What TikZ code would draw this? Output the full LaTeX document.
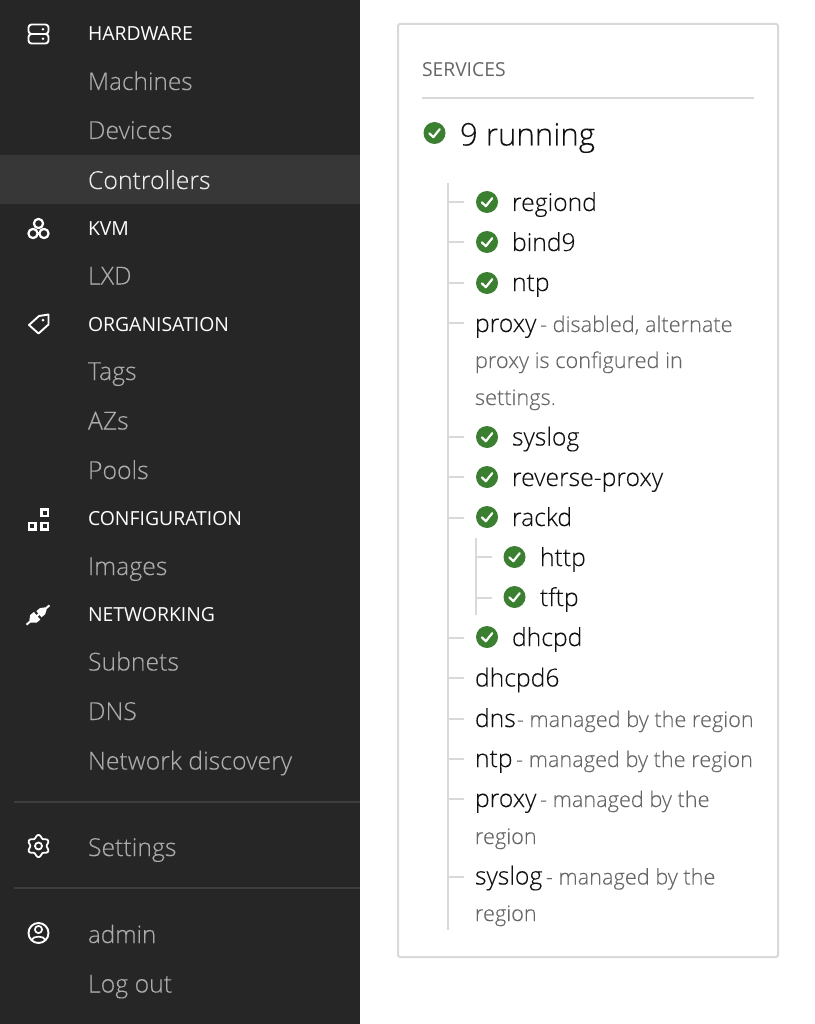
\documentclass[tikz,border=0pt]{standalone}
\usepackage{fontspec}
\setmainfont[FakeBold=0.12]{Open Sans Light}
\newfontfamily\medf{Open Sans}
\definecolor{side}{HTML}{262626}
\definecolor{band}{HTML}{373737}
\definecolor{sep}{HTML}{3D3D3D}
\definecolor{navg}{HTML}{ABABAB}
\definecolor{card}{HTML}{D9D9D9}
\definecolor{okg}{HTML}{3A8030}
\definecolor{ink}{HTML}{111111}
\definecolor{capt}{HTML}{666666}
\newcommand{\fs}[1]{\fontsize{#1}{#1}\selectfont}
\tikzset{
 x=1pt,y=-1pt,
 txt/.style={anchor=base west,inner sep=0pt,outer sep=0pt},
 navhead/.style={txt,text=white,font=\medf\fs{19.4}},
 navitem/.style={txt,text=navg,font=\fs{24.8}},
 svc/.style={txt,text=ink,font=\fs{24.7}},
 note/.style={txt,text=capt,font=\fs{21.7}},
 ico/.style={draw=white,line width=1.9pt,line join=round,line cap=round},
 tree/.style={draw=card,line width=1.2pt},
 trunk/.style={draw=card,line width=1.6pt},
}
\newcommand{\okicon}[3]{% name,x,y
 \node[circle,fill=okg,minimum size=22pt,inner sep=0pt] (#1) at (#2,#3) {};
 \draw[white,line width=2.2pt,line cap=round,line join=round] ([shift={(-5,0.5)}]#1.center) -- ([shift={(-1.2,4.2)}]#1.center) -- ([shift={(5.2,-3.8)}]#1.center);
}
\newcommand{\tick}[3]{\coordinate (#1a) at (#2,#3);\draw[tree] (#1a) -- ++(16,0);}
\begin{document}
\begin{tikzpicture}
\useasboundingbox (0,0) rectangle (814,1024);
\fill[white] (0,0) rectangle (814,1024);
\fill[side] (0,0) rectangle (360,1024);
\fill[band] (0,155) rectangle (360,204);
\draw[sep,line width=1.3pt] (14,802) -- (360,802);
\draw[sep,line width=1.3pt] (14,888) -- (360,888);
% navigation
\node[navhead] (hw) at (88,40.7) {HARDWARE};
\node[navitem,font=\fs{24.4}] (mach) at (88,90) {Machines};
\node[navitem] (dev) at (88,139) {Devices};
\node[navitem,text=white!92!black] (ctrl) at (88,189) {Controllers};
\node[navhead] (kvm) at (88,235.7) {KVM};
\node[navitem] (lxd) at (88,284.5) {LXD};
\node[navhead] (org) at (88,331) {ORGANISATION};
\node[navitem] (tags) at (88,380) {Tags};
\node[navitem] (azs) at (88,429.5) {AZs};
\node[navitem] (pools) at (88,479) {Pools};
\node[navhead] (conf) at (88,525.7) {CONFIGURATION};
\node[navitem] (img) at (88,575) {Images};
\node[navhead] (net) at (88,621.5) {NETWORKING};
\node[navitem] (subn) at (88,670.5) {Subnets};
\node[navitem] (dns) at (88,720) {DNS};
\node[navitem] (disc) at (88,769.5) {Network discovery};
\node[navitem] (sett) at (88,856) {Settings};
\node[navitem,font=\fs{24.2}] (adm) at (88,943) {admin};
\node[navitem] (logout) at (88,992.5) {Log out};
% server icon
\draw[ico,rounded corners=3pt] (28.5,24.5) rectangle (48.5,34);
\draw[ico,rounded corners=3pt] (28.5,34) rectangle (48.5,43.5);
\fill[white] (43,29.3) circle (1.4) (43,38.7) circle (1.4);
% cluster icon
\draw[ico,line width=2.2pt] (38.5,223.5) circle (4.6) (33,233.5) circle (4.6) (44,233.5) circle (4.6);
% tag icon
\draw[ico] (29,325) -- (39,316) -- (48.5,314.5) -- (48.5,324.5) -- (38.5,333.5) -- cycle;
\fill[white] (43,320) circle (1.5);
% configuration icon
\draw[white,line width=2.2pt] (41.5,509.5) rectangle (48,516) (29,523) rectangle (35.5,529.5) (41.5,523) rectangle (48,529.5);
% plug icon
\begin{scope}[shift={(38,615)},rotate=40]
\fill[white] (-15,-1) rectangle (15,1);
\fill[white] (-10,-1.5) -- (-6,-5) -- (-1.2,-5) -- (-1.2,5) -- (-6,5) -- (-10,1.5) -- cycle;
\fill[white] (10,-1.5) -- (6,-4) -- (1.2,-4) -- (1.2,4) -- (6,4) -- (10,1.5) -- cycle;
\end{scope}
% gear icon
\draw[ico,line width=1.8pt,smooth cycle] plot[domain=0:352,samples=45] ({38.5+(9.6+1.5*cos(6*\x))*cos(\x+30)},{846+(9.6+1.5*cos(6*\x))*sin(\x+30)});
\draw[ico,line width=1.8pt] (38.5,846) circle (3.5);
% user icon
\draw[ico] (38.5,933) circle (10);
\draw[ico,line width=1.7pt] (38.5,929.5) circle (3.6);
\draw[ico,line width=1.7pt] (31.5,940) .. controls (33,935.5) and (44,935.5) .. (45.5,940);
% card
\draw[card,line width=2pt,rounded corners=2pt] (398,24) rectangle (778,957);
\node[txt,text=capt,font=\medf\fs{19.3}] (head) at (422,76.7) {SERVICES};
\draw[card,line width=1.6pt] (422,98) -- (754,98);
\okicon{oktop}{434.5}{133}
\node[txt,text=ink,font=\fs{31.2}] (run) at (460,145.5) {9 running};
% tree
\coordinate (tt) at (448,183);\coordinate (tb) at (448,930);
\draw[trunk] (tt) -- (tb);
\coordinate (st) at (475.7,538);\coordinate (sb) at (475.7,615);
\draw[trunk] (st) -- (sb);
\tick{t1}{448}{202}\tick{t2}{448}{242}\tick{t3}{448}{283}\tick{t4}{448}{323}
\tick{t5}{448}{437}\tick{t6}{448}{477}\tick{t7}{448}{518}\tick{t8}{448}{638}
\tick{t9}{448}{678}\tick{t10}{448}{719}\tick{t11}{448}{759}\tick{t12}{448}{799}\tick{t13}{448}{877}
\tick{s1}{475.7}{557}\tick{s2}{475.7}{598}
\okicon{k1}{487}{202}\okicon{k2}{487}{242}\okicon{k3}{487}{283}
\okicon{k4}{487}{437}\okicon{k5}{487}{477}\okicon{k6}{487}{517}
\okicon{k7}{514.5}{557}\okicon{k8}{514.5}{597}\okicon{k9}{487}{637}
\node[svc] (a1) at (512,211) {regiond};
\node[svc] (a2) at (512,251) {bind9};
\node[svc] (a3) at (512,291) {ntp};
\node[svc] (a4) at (475,332) {proxy};
\node[note] (n4) at (a4.base east) [anchor=base west] {\,- disabled, alternate};
\node[note] (n4b) at (475,368) {proxy is configured in};
\node[note] (n4c) at (475,405) {settings.};
\node[svc] (a5) at (512,445.5) {syslog};
\node[svc] (a6) at (512,486) {reverse-proxy};
\node[svc] (a7) at (512,526) {rackd};
\node[svc] (a8) at (540,566) {http};
\node[svc] (a9) at (540,606) {tftp};
\node[svc] (a10) at (512,646) {dhcpd};
\node[svc] (a11) at (475,686.5) {dhcpd6};
\node[svc] (a12) at (475,727) {dns};
\node[note] (n12) at ([xshift=-2.5pt]a12.base east) [anchor=base west] {\,- managed by the region};
\node[svc] (a13) at (475,767) {ntp};
\node[note] (n13) at (a13.base east) [anchor=base west] {\,- managed by the region};
\node[svc] (a14) at (475,807) {proxy};
\node[note] (n14) at (a14.base east) [anchor=base west] {\,- managed by the};
\node[note] (n14b) at (475,844) {region};
\node[svc] (a15) at (475,884.5) {syslog};
\node[note] (n15) at (a15.base east) [anchor=base west] {\,- managed by the};
\node[note] (n15b) at (475,921) {region};
\end{tikzpicture}
\end{document}
